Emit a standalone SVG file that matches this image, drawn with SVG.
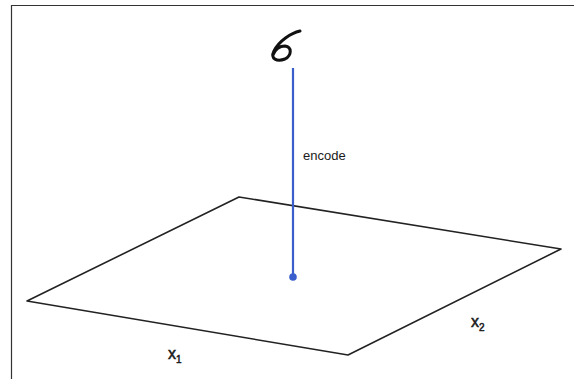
<svg xmlns="http://www.w3.org/2000/svg" width="574" height="379" viewBox="0 0 574 379">
<style>
.lbl{font-family:"Liberation Sans",Arial,sans-serif;fill:#1a1a1a}
.ax{stroke:#1a1a1a;stroke-width:0.5}
.edge{fill:none;stroke:#222;stroke-width:1.6;stroke-linejoin:round}
</style>
<rect width="574" height="379" fill="#fff"/>
<g id="frame"><path d="M11.5,379 V5.5 H574" fill="none" stroke="#333" stroke-width="1.2"/></g>
<g id="plane"><polygon class="edge" points="27,301 239,197 561,249 348,355"/></g>
<g id="digit"><path d="M300,31 C291,33 279,41 274,51 C270,59 277,62 285,59 C292,55 292,47 285,46 C279,46 275,50 273,55" fill="none" stroke="#111" stroke-width="3" stroke-linecap="round" stroke-linejoin="round"/></g>
<g id="connectors">
<line x1="293" y1="68" x2="293" y2="277" stroke="#3a5fcd" stroke-width="2.2"/>
<circle cx="293" cy="277" r="3.8" fill="#3a5fcd"/>
</g>
<g id="labels">
<text class="lbl" x="303" y="160" font-size="13">encode</text>
<text class="lbl ax" x="168" y="359" font-size="16">x<tspan font-size="10" dy="4">1</tspan></text>
<text class="lbl ax" x="471" y="327" font-size="16">x<tspan font-size="10" dy="4">2</tspan></text>
</g>
</svg>
